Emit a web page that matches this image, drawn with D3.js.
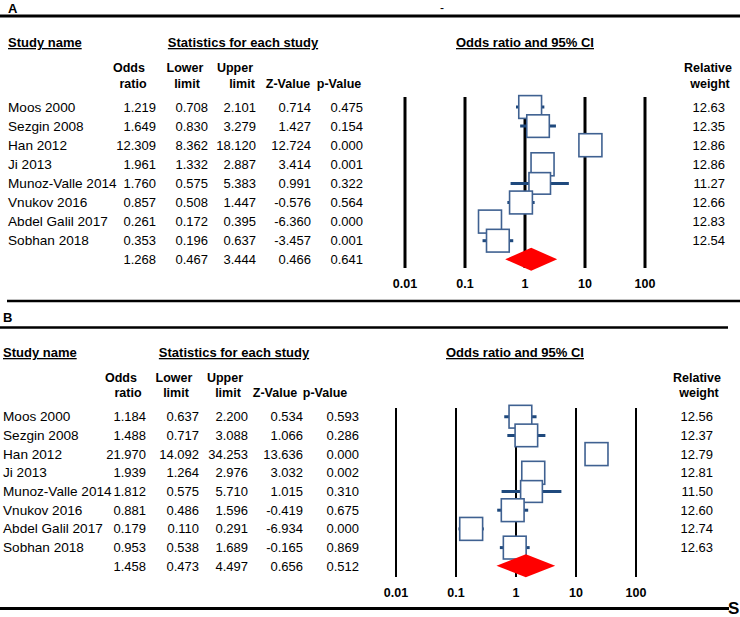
<!DOCTYPE html>
<html>
<head>
<meta charset="utf-8">
<script src="https://cdn.jsdelivr.net/npm/d3@7"></script>
<style>
  body { margin: 0; background: #fff; }
  svg { display: block; font-family: "Liberation Sans", Arial, sans-serif; }
</style>
</head>
<body>
<svg id="chart" width="740" height="617"></svg>
<script>
// study names (same in both panels)
var studies = ["Moos 2000", "Sezgin 2008", "Han 2012", "Ji 2013", "Munoz-Valle 2014",
               "Vnukov 2016", "Abdel Galil 2017", "Sobhan 2018"];
var ticks = [0.01, 0.1, 1, 10, 100];

// panel A
var orA  = [1.219, 1.649, 12.309, 1.961, 1.760, 0.857, 0.261, 0.353];
var lowA = [0.708, 0.830, 8.362, 1.332, 0.575, 0.508, 0.172, 0.196];
var upA  = [2.101, 3.279, 18.120, 2.887, 5.383, 1.447, 0.395, 0.637];
var zA   = [0.714, 1.427, 12.724, 3.414, 0.991, -0.576, -6.360, -3.457];
var pA   = [0.475, 0.154, 0.000, 0.001, 0.322, 0.564, 0.000, 0.001];
var wA   = [12.63, 12.35, 12.86, 12.86, 11.27, 12.66, 12.83, 12.54];
var sumA = [1.268, 0.467, 3.444, 0.466, 0.641]; // or, low, up, z, p

// panel B
var orB  = [1.184, 1.488, 21.970, 1.939, 1.812, 0.881, 0.179, 0.953];
var lowB = [0.637, 0.717, 14.092, 1.264, 0.575, 0.486, 0.110, 0.538];
var upB  = [2.200, 3.088, 34.253, 2.976, 5.710, 1.596, 0.291, 1.689];
var zB   = [0.534, 1.066, 13.636, 3.032, 1.015, -0.419, -6.934, -0.165];
var pB   = [0.593, 0.286, 0.000, 0.002, 0.310, 0.675, 0.000, 0.869];
var wB   = [12.56, 12.37, 12.79, 12.81, 11.50, 12.60, 12.74, 12.63];
var sumB = [1.458, 0.473, 4.497, 0.656, 0.512];

var svg = d3.select("#chart");
var loc = d3.formatLocale({ decimal: ".", thousands: ",", grouping: [3], currency: ["", ""], minus: "-" });
var f3 = loc.format(".3f"), f2 = loc.format(".2f");

function drawPanel(cfg) {
  var g = svg.append("g");
  var rows = studies.map(function (s, i) {
    return { name: s, or: cfg.or[i], lo: cfg.lo[i], up: cfg.up[i], z: cfg.z[i], p: cfg.p[i], w: cfg.w[i] };
  });
  var y = d3.scaleLinear().domain([0, studies.length]).range([cfg.row0, cfg.row0 + cfg.step * studies.length]);
  var x = d3.scaleLog().domain([0.01, 100]).range(cfg.xr);

  // headers
  function head(t, xx, yy, anchor, underline, fs) {
    g.append("text").attr("x", xx).attr("y", yy).attr("text-anchor", anchor || "middle")
      .attr("font-size", fs || 12.5).attr("font-weight", "bold")
      .attr("text-decoration", underline ? "underline" : null).text(t);
  }
  head("Study name", cfg.nameX, cfg.h0, "start", true, 13);
  head("Statistics for each study", cfg.statsX, cfg.h0, "middle", true, 13);
  head("Odds ratio and 95% CI", cfg.ciX, cfg.h0, "middle", true, 13);
  var hdr = [["Odds", "ratio"], ["Lower", "limit"], ["Upper", "limit"], ["", "Z-Value"], ["", "p-Value"]];
  hdr.forEach(function (h, i) {
    head(h[0], cfg.hc[i][0], cfg.h1);
    head(h[1], cfg.hc[i][1], cfg.h2);
  });
  head("Relative", cfg.rwX, cfg.h1);
  head("weight", cfg.rwX + 2, cfg.h2);

  // table rows
  var tr = g.selectAll("g.row").data(rows).enter().append("g")
    .attr("transform", function (d, i) { return "translate(0," + (y(i) + 4.5) + ")"; })
    .attr("font-size", 13);
  tr.append("text").attr("x", cfg.nameX).attr("font-size", 13.6).text(function (d) { return d.name; });
  ["or", "lo", "up", "z", "p"].forEach(function (k, j) {
    tr.append("text").attr("x", cfg.cols[j]).attr("text-anchor", "end")
      .text(function (d) { return f3(d[k]); });
  });
  tr.append("text").attr("x", cfg.rwR).attr("text-anchor", "end").text(function (d) { return f2(d.w); });
  // summary row
  cfg.sum.forEach(function (v, j) {
    g.append("text").attr("x", cfg.cols[j]).attr("y", y(studies.length) + 4.5)
      .attr("text-anchor", "end").attr("font-size", 13).text(f3(v));
  });

  // reference lines
  g.selectAll("line.ref").data(ticks).enter().append("line")
    .attr("x1", x).attr("x2", x).attr("y1", cfg.vTop).attr("y2", cfg.vBot)
    .attr("stroke", "#000").attr("stroke-width", cfg.vw);
  g.selectAll("text.tick").data(ticks).enter().append("text")
    .attr("x", x).attr("y", cfg.tickY).attr("text-anchor", "middle")
    .attr("font-size", 12.5).attr("font-weight", "bold").text(function (d) { return d; });

  // CI lines and boxes
  var mk = g.selectAll("g.mk").data(rows).enter().append("g");
  mk.append("line")
    .attr("x1", function (d) { return x(d.lo); }).attr("x2", function (d) { return x(d.up); })
    .attr("y1", function (d, i) { return y(i); }).attr("y2", function (d, i) { return y(i); })
    .attr("stroke", "#1f497d").attr("stroke-width", 3);
  mk.append("rect")
    .attr("width", function (d) { return 23 * Math.sqrt(d.w / 12.86); })
    .attr("height", function (d) { return 23 * Math.sqrt(d.w / 12.86); })
    .attr("x", function (d) { return x(d.or) - 11.5 * Math.sqrt(d.w / 12.86); })
    .attr("y", function (d, i) { return y(i) - 11.5 * Math.sqrt(d.w / 12.86); })
    .attr("fill", "#fff").attr("stroke", "#3f6191").attr("stroke-width", 1.6);

  // summary diamond
  var cy = y(studies.length) - 0.5;
  g.append("path")
    .attr("d", "M" + x(cfg.sum[1]) + "," + cy + "L" + x(cfg.sum[0]) + "," + (cy - 11.5) +
      "L" + x(cfg.sum[2]) + "," + cy + "L" + x(cfg.sum[0]) + "," + (cy + 11.5) + "Z")
    .attr("fill", "#ff0000");
}

// panel A frame
svg.append("text").attr("x", 8).attr("y", 13).attr("font-size", 13).attr("font-weight", "bold").text("A");
svg.append("text").attr("x", 440).attr("y", 12).attr("font-size", 12).text("-");
svg.append("line").attr("x1", 0).attr("x2", 740).attr("y1", 16).attr("y2", 16).attr("stroke", "#000").attr("stroke-width", 3);

drawPanel({
  or: orA, lo: lowA, up: upA, z: zA, p: pA, w: wA, sum: sumA,
  nameX: 8, statsX: 243, ciX: 525, h0: 47, h1: 72, h2: 88,
  hc: [[129, 133], [185, 187], [235, 242], [288, 288], [339, 339]],
  cols: [156, 208, 256, 311, 363], rwX: 708, rwR: 725,
  row0: 107, step: 19.1, xr: [405, 645], vTop: 97, vBot: 268, vw: 3, tickY: 288
});

// panel B frame
svg.append("line").attr("x1", 7).attr("x2", 740).attr("y1", 301).attr("y2", 301).attr("stroke", "#000").attr("stroke-width", 2.5);
svg.append("text").attr("x", 3).attr("y", 322).attr("font-size", 13).attr("font-weight", "bold").text("B");
svg.append("line").attr("x1", 0).attr("x2", 728).attr("y1", 327.5).attr("y2", 327.5).attr("stroke", "#000").attr("stroke-width", 2.5);

drawPanel({
  or: orB, lo: lowB, up: upB, z: zB, p: pB, w: wB, sum: sumB,
  nameX: 3, statsX: 234, ciX: 515, h0: 357, h1: 382, h2: 397,
  hc: [[121, 128], [174, 176], [225, 228], [275, 275], [325, 325]],
  cols: [146, 199, 248, 303, 359], rwX: 697, rwR: 713,
  row0: 416.7, step: 18.7, xr: [396, 636], vTop: 408, vBot: 577, vw: 2, tickY: 597
});

svg.append("line").attr("x1", 0).attr("x2", 729).attr("y1", 608.5).attr("y2", 608.5).attr("stroke", "#000").attr("stroke-width", 3);
svg.append("text").attr("x", 728).attr("y", 614).attr("font-size", 17).attr("font-weight", "bold").text("S");
</script>
</body>
</html>
